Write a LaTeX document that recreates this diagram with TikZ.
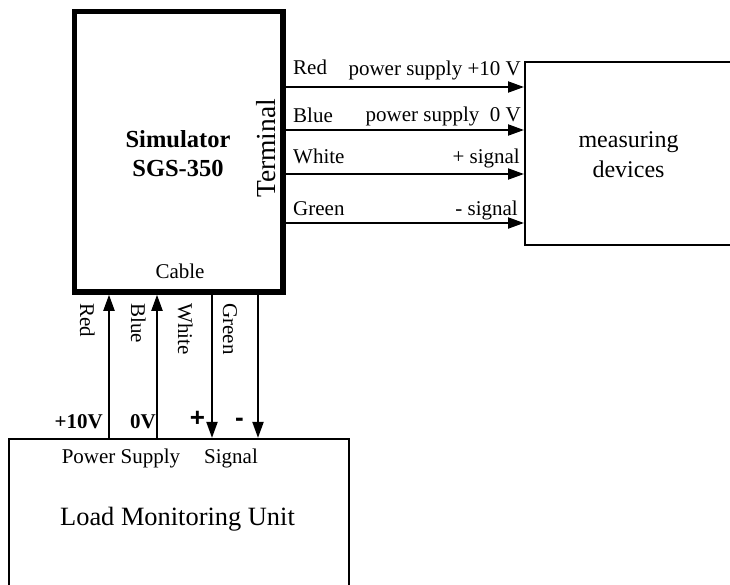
\documentclass[tikz,border=0pt]{standalone}
\usepackage{fontspec}
\setmainfont{Liberation Serif}
\newfontfamily\sansfnt{Liberation Sans}
\usetikzlibrary{arrows.meta}
\begin{document}
\begin{tikzpicture}[x=1pt,y=-1pt,
  txt/.style={inner sep=0pt, font=\fontsize{21}{25}\selectfont},
  boldtxt/.style={inner sep=0pt, font=\fontsize{21}{25}\selectfont\bfseries},
  bigtxt/.style={inner sep=0pt, font=\fontsize{27.5}{32}\selectfont},
  lmutxt/.style={inner sep=0pt, font=\fontsize{26.4}{31}\selectfont},
  midtxt/.style={inner sep=0pt, font=\fontsize{24}{28}\selectfont},
  simtxt/.style={inner sep=0pt, font=\fontsize{24.5}{28}\selectfont\bfseries},
  signtxt/.style={inner sep=0pt, font=\fontsize{26}{30}\selectfont\sansfnt\bfseries},
  arr/.style={line width=2pt, -{Triangle[length=16pt,width=11pt]}},
  box/.style={draw, inner sep=0pt, line width=2pt}]
\useasboundingbox (0,0) rectangle (730,584);
\clip (0,0) rectangle (730,584);

% boxes
\node[box, line width=5.5pt, minimum width=208.5pt, minimum height=280.5pt] (sim) at (178.75,151.75) {};
\node[box, minimum width=235pt, minimum height=183pt] (meas) at (642.5,153.5) {};
\node[box, line width=2.2pt, minimum width=340pt, minimum height=201pt] (lmu) at (179,539.5) {};

% simulator texts
\node[simtxt, anchor=base] (simA) at (178,147) {Simulator};
\node[simtxt, anchor=base] (simB) at (178,176) {SGS-350};
\node[bigtxt, rotate=90, anchor=base west] (term) at (275,198) {Terminal};
\node[txt, anchor=base] (cable) at (180,278) {Cable};

% measuring devices texts
\node[midtxt, anchor=base] (measA) at (628.5,147) {measuring};
\node[midtxt, anchor=base] (measB) at (628.5,177) {devices};

% LMU texts
\node[txt, anchor=base] (ps) at (121,463) {Power Supply};
\node[txt, anchor=base] (sig) at (231,463) {Signal};
\node[lmutxt, anchor=base] (lmut) at (177.5,525) {Load Monitoring Unit};

% horizontal arrows
\draw[arr] (sim.east |- 0,87) -- (meas.west |- 0,87);
\draw[arr] (sim.east |- 0,130) -- (meas.west |- 0,130);
\draw[arr] (sim.east |- 0,174) -- (meas.west |- 0,174);
\draw[arr] (sim.east |- 0,223) -- (meas.west |- 0,223);

\node[txt, anchor=base west] (hred) at (293,74) {Red};
\node[txt, anchor=base west] (hblue) at (293,122) {Blue};
\node[txt, anchor=base west] (hwhite) at (293,163) {White};
\node[txt, anchor=base west] (hgreen) at (293,215) {Green};
\node[txt, anchor=base east] (l1) at (521,75) {power supply +10 V};
\node[txt, anchor=base east] (l2) at (521,121) {power supply\ \ 0 V};
\node[txt, anchor=base east] (l3) at (520,163) {+ signal};
\node[txt, anchor=base east] (l4) at (518,215) {- signal};

% vertical arrows
\draw[arr] (lmu.north -| 109,0) -- (sim.south -| 109,0);
\draw[arr] (lmu.north -| 157,0) -- (sim.south -| 157,0);
\draw[arr] (sim.south -| 212,0) -- (lmu.north -| 212,0);
\draw[arr] (sim.south -| 258,0) -- (lmu.north -| 258,0);

\node[txt, rotate=-90, anchor=base west] (vred) at (80,303) {Red};
\node[txt, rotate=-90, anchor=base west] (vblue) at (131,303) {Blue};
\node[txt, rotate=-90, anchor=base west] (vwhite) at (178,303) {White};
\node[txt, rotate=-90, anchor=base west] (vgreen) at (223,303) {Green};

\node[boldtxt, anchor=base east] (p10) at (103,428) {+10V};
\node[boldtxt, anchor=base east] (p0) at (156,428) {0V};
\node[signtxt, anchor=base] (plus) at (197.5,426) {+};
\node[signtxt, anchor=base] (minus) at (239.5,426) {-};
\end{tikzpicture}
\end{document}
